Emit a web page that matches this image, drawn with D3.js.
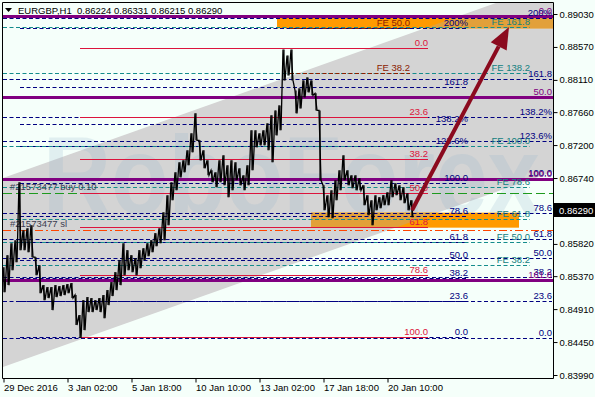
<!DOCTYPE html>
<html><head><meta charset="utf-8">
<script src="https://cdn.jsdelivr.net/npm/d3@7/dist/d3.min.js"></script>
<style>
html,body{margin:0;padding:0;background:#F5FFFA;}
svg{display:block;}
text{font-family:"Liberation Sans",Arial,sans-serif;}
</style></head><body>
<svg id="chart" width="595" height="397"></svg>
<script>
// ---------------- data ----------------
const symbol = "EURGBP,H1";
const lastQuote = ["0.86224", "0.86331", "0.86215", "0.86290"];
const currentPrice = 0.86290;
const barStep = 4; // hourly bars between samples
const highs = [0.85495,0.85663,0.85830,0.85872,0.86681,0.86011,0.86039,0.86081,0.85635,0.85523,
0.85245,0.85217,0.85217,0.85245,0.85231,0.85245,0.85259,0.85273,0.85106,0.84826,
0.85035,0.85078,0.85064,0.85035,0.85064,0.85106,0.85175,0.85287,0.85426,0.85593,
0.85830,0.85733,0.85663,0.85621,0.85733,0.85760,0.85830,0.85872,0.85970,0.86039,
0.86262,0.86500,0.86681,0.86820,0.86960,0.86987,0.87127,0.87364,0.87643,0.87266,
0.87127,0.86987,0.86848,0.86820,0.86987,0.87057,0.86918,0.86987,0.86960,0.86876,
0.86778,0.86918,0.87406,0.87406,0.87364,0.87406,0.87503,0.87615,0.87684,0.87754,
0.88535,0.88451,0.88535,0.87963,0.87991,0.88103,0.88145,0.88103,0.87922,0.87684,
0.86639,0.86500,0.86569,0.86709,0.86848,0.87057,0.86848,0.86778,0.86778,0.86736,
0.86639,0.86500,0.86430,0.86500,0.86472,0.86500,0.86541,0.86709,0.86667,0.86639,
0.86611,0.86527,0.86430];
const lows = [0.85147,0.85245,0.85454,0.85565,0.85733,0.85733,0.85705,0.85635,0.85384,0.85133,
0.85035,0.85064,0.84896,0.85078,0.85092,0.85106,0.85133,0.85064,0.84687,0.84506,
0.84617,0.84868,0.84868,0.84896,0.84868,0.84784,0.84966,0.85092,0.85175,0.85245,
0.85384,0.85454,0.85426,0.85384,0.85482,0.85593,0.85649,0.85705,0.85788,0.85830,
0.85872,0.86081,0.86430,0.86569,0.86750,0.86820,0.86918,0.87099,0.87266,0.86987,
0.86876,0.86778,0.86681,0.86611,0.86681,0.86639,0.86472,0.86569,0.86709,0.86639,
0.86569,0.86639,0.86848,0.87169,0.87197,0.87197,0.87127,0.86960,0.87336,0.87406,
0.88103,0.88172,0.88103,0.87643,0.87712,0.87866,0.87936,0.87894,0.87684,0.86709,
0.86290,0.86193,0.86179,0.86430,0.86569,0.86709,0.86639,0.86597,0.86569,0.86569,
0.86360,0.86221,0.86081,0.86290,0.86318,0.86360,0.86360,0.86472,0.86500,0.86430,
0.86388,0.86290,0.86193];

const timeTickIdx = [0, 64, 128, 192, 256, 320, 384];
const timeTickLabels = ["29 Dec 2016", "3 Jan 02:00", "5 Jan 18:00", "10 Jan 10:00", "13 Jan 02:00", "17 Jan 18:00", "20 Jan 10:00"];
const priceTicks = [0.89030, 0.88570, 0.88110, 0.87660, 0.87200, 0.86740, 0.85820, 0.85370, 0.84910, 0.84450, 0.83990];

const retraceLevels = [0, 23.6, 38.2, 50, 61.8, 78.6, 100];
const retraceLabels = ["0.0", "23.6", "38.2", "50.0", "61.8", "78.6", "100.0"];
const redFib = {p0: 0.88549, p100: 0.84520, i0: 77, i1: 425};

const extLevels = [0, 23.6, 38.2, 50, 61.8, 78.6, 100, 123.6, 138.2, 161.8, 200];
const extLabels = ["0.0", "23.6", "38.2", "50.0", "61.8", "78.6", "100.0", "123.6%", "138.2%", "161.8", "200%"];
const navyFibA = {p0: 0.84502, p100: 0.86736, i0: 0, i1: 549};
const navyFibB = {p0: 0.84516, p100: 0.86673, i0: 17, i1: 465};

const feLevels = [38.2, 50, 61.8, 78.6, 100, 138.2, 161.8];
const feLabels = ["FE 38.2", "FE 50.0", "FE 61.8", "FE 78.6", "FE 100.0", "FE 138.2", "FE 161.8"];
const feTeal = {p0: 0.84507, p100: 0.87187, i0: 0, i1: 527};
const feBrownLevels = [38.2, 50];
const feBrownLabels = ["FE 38.2", "FE 50.0"];
const feBrown = {p0: 0.86154, p100: 0.91529, i0: 287, i1: 407};

const purpleLevels = [0, 50, 100, 161.8];
const purpleLabels = ["0.0", "50.0", "100.0", "161.8"];
const purpleFib = {p0: 0.89009, p100: 0.86726, i0: 0, i1: 549};

const orderPrice = 0.86530, stopPrice = 0.86015;
const orderLabel = "#21573477 buy 0.10", stopLabel = "#21573477 sl";

const zones = [
  {i0: 274, i1: 550, pTop: 0.88984, pBot: 0.88830},
  {i0: 308, i1: 516, pTop: 0.86256, pBot: 0.86047}
];
const channelUpper = [[0, 0.86740], [550, 0.89467]];
const channelWidth = 0.02638;
const arrowFrom = [409, 0.86290], arrowTo = [506, 0.88850];
const watermark = "RoboForex";

// ---------------- drawing ----------------
const svg = d3.select("#chart");
const PL = 3, PR = 553, PT = 3, PB = 378;
const X = d3.scaleLinear().domain([0, 550]).range([PL, PR]);
const Y = d3.scaleLinear().domain([0.83990, 0.89030]).range([375, 14]);
const ry = p => Math.round(Y(p)) + 0.5;

svg.append("rect").attr("width", 595).attr("height", 397).attr("fill", "#F5FFFA");

const defs = svg.append("defs");
defs.append("clipPath").attr("id", "plotClip").append("rect")
  .attr("x", PL).attr("y", PT).attr("width", PR - PL).attr("height", PB - PT);
const chanPoly = [
  [X(channelUpper[0][0]), Y(channelUpper[0][1])],
  [X(channelUpper[1][0]), Y(channelUpper[1][1])],
  [X(channelUpper[1][0]), Y(channelUpper[1][1] - channelWidth)],
  [X(channelUpper[0][0]), Y(channelUpper[0][1] - channelWidth)]
];
defs.append("clipPath").attr("id", "chanClip").append("polygon").attr("points", chanPoly.join(" "));

const g = svg.append("g").attr("clip-path", "url(#plotClip)");

// channel
g.append("polygon").attr("points", chanPoly.join(" ")).attr("fill", "#D4D4D4");

// watermark
g.append("text").attr("x", 43).attr("y", 214).text(watermark)
  .attr("font-size", 112).attr("font-weight", "bold")
  .attr("textLength", 497).attr("lengthAdjust", "spacingAndGlyphs")
  .attr("fill", "rgba(150,180,205,0.22)");

// zones
zones.forEach(z => {
  g.append("rect").attr("x", X(z.i0)).attr("y", Y(z.pTop)).attr("width", X(z.i1) - X(z.i0))
    .attr("height", Y(z.pBot) - Y(z.pTop)).attr("fill", "#FF9A00");
  g.append("rect").attr("clip-path", "url(#chanClip)").attr("x", X(z.i0)).attr("y", Y(z.pTop))
    .attr("width", X(z.i1) - X(z.i0)).attr("height", Y(z.pBot) - Y(z.pTop)).attr("fill", "#E2A03A");
});

function hline(i0, i1, p, color, w, dash) {
  const l = g.append("line").attr("x1", X(i0)).attr("x2", X(i1))
    .attr("y1", ry(p)).attr("y2", ry(p)).attr("stroke", color).attr("stroke-width", w);
  if (dash) l.attr("stroke-dasharray", dash);
}
function label(i, p, txt, color) {
  g.append("text").attr("x", X(i)).attr("y", Math.round(Y(p)) - 2).attr("text-anchor", "end")
    .attr("font-size", 9.5).attr("fill", color).text(txt);
}
const lvl = (f, L) => f.p0 + (f.p100 - f.p0) * L / 100;

// order lines
hline(0, 550, orderPrice, "#1E9A1E", 1, "9,4");
hline(0, 550, stopPrice, "#FF4500", 1, "8,3,2,3");

// navy fibs
[navyFibA, navyFibB].forEach(f => extLevels.forEach(L => hline(f.i0, f.i1, lvl(f, L), "#000080", 1, "4,2.5")));
// teal FE
feLevels.forEach(L => hline(feTeal.i0, feTeal.i1, lvl(feTeal, L), "#148C8C", 1, "4,2.5"));
// brown FE
feBrownLevels.forEach(L => hline(feBrown.i0, feBrown.i1, lvl(feBrown, L), "#8B2000", 1, "4,2.5"));
// red fib
retraceLevels.forEach(L => hline(redFib.i0, redFib.i1, lvl(redFib, L), "#DC143C", 1));
// purple fib
purpleLevels.forEach(L => hline(purpleFib.i0, 550, lvl(purpleFib, L), "#800080", 3));

// labels
[navyFibA, navyFibB].forEach(f => extLevels.forEach((L, k) => label(f.i1, lvl(f, L), extLabels[k], "#000080")));
feLevels.forEach((L, k) => label(feTeal.i1, lvl(feTeal, L), feLabels[k], "#128080"));
feBrownLevels.forEach((L, k) => label(feBrown.i1, lvl(feBrown, L), feBrownLabels[k], "#8B2000"));
retraceLevels.forEach((L, k) => label(redFib.i1, lvl(redFib, L), retraceLabels[k], "#DC143C"));
purpleLevels.forEach((L, k) => label(purpleFib.i1, lvl(purpleFib, L), purpleLabels[k], "#800080"));

g.append("text").attr("x", 10).attr("y", Math.round(Y(orderPrice)) - 3).attr("font-size", 9.5)
  .attr("fill", "#3C3C50").text(orderLabel);
g.append("text").attr("x", 10).attr("y", Math.round(Y(stopPrice)) - 3).attr("font-size", 9.5)
  .attr("fill", "#3C3C50").text(stopLabel);

// price bars: each sample drawn as a high-low bar, joined by a jagged high/low trace
const zig = [];
highs.forEach((h, k) => { zig.push([X(k * barStep), Y(h)]); zig.push([X(k * barStep + 2), Y(lows[k])]); });
g.append("path").attr("d", d3.line()(zig)).attr("fill", "none").attr("stroke", "#000").attr("stroke-width", 1.3);
g.selectAll(".bar").data(highs).enter().append("line")
  .attr("x1", (d, k) => X(k * barStep) + 1).attr("x2", (d, k) => X(k * barStep) + 1)
  .attr("y1", d => Y(d)).attr("y2", (d, k) => Y(lows[k]))
  .attr("stroke", "#000").attr("stroke-width", 1.2);

// arrow
const ax0 = X(arrowFrom[0]), ay0 = Y(arrowFrom[1]), ax1 = X(arrowTo[0]), ay1 = Y(arrowTo[1]);
const ang = Math.atan2(ay1 - ay0, ax1 - ax0);
const headLen = 22, headW = 9;
const bx = ax1 - headLen * Math.cos(ang), by = ay1 - headLen * Math.sin(ang);
g.append("line").attr("x1", ax0).attr("y1", ay0).attr("x2", bx).attr("y2", by)
  .attr("stroke", "#8B0A1E").attr("stroke-width", 4);
g.append("polygon").attr("fill", "#8B0A1E").attr("points", [
  [ax1, ay1],
  [bx + headW * Math.sin(ang), by - headW * Math.cos(ang)],
  [bx - headW * Math.sin(ang), by + headW * Math.cos(ang)]
].join(" "));

// axes
const yAxis = d3.axisRight(Y).tickValues(priceTicks).tickFormat(d3.format(".5f")).tickSize(4).tickSizeOuter(0);
const ya = svg.append("g").attr("transform", `translate(${PR + 0.5},0)`).call(yAxis);
ya.select(".domain").remove();
ya.selectAll("text").attr("font-size", 9.5).attr("fill", "#000").attr("x", 6)
  .style("font-family", '"Liberation Sans",Arial,sans-serif');
ya.selectAll("line").attr("stroke", "#000");

const xAxis = d3.axisBottom(X).tickValues(timeTickIdx).tickFormat((d, k) => timeTickLabels[k]).tickSize(4).tickSizeOuter(0);
const xa = svg.append("g").attr("transform", `translate(0.5,${PB + 0.5})`).call(xAxis);
xa.select(".domain").remove();
xa.selectAll("text").attr("font-size", 9.5).attr("fill", "#000").attr("text-anchor", "start")
  .attr("x", 0).attr("y", 6).style("font-family", '"Liberation Sans",Arial,sans-serif');
xa.selectAll("line").attr("stroke", "#000");

// frame
svg.append("path").attr("d", `M2.5,2.5H${PR + 0.5}V${PB + 0.5}H2.5Z`).attr("fill", "none").attr("stroke", "#000");

// current price box
const cy = Y(currentPrice);
svg.append("rect").attr("x", PR + 1).attr("y", Math.round(cy) - 7).attr("width", 42).attr("height", 14).attr("fill", "#000");
svg.append("text").attr("x", PR + 6).attr("y", cy + 3.5).attr("font-size", 9.5).attr("fill", "#fff")
  .text(d3.format(".5f")(currentPrice));

// title
svg.append("polygon").attr("points", "5,8 12,8 8.5,12").attr("fill", "#000");
svg.append("text").attr("x", 18).attr("y", 14).attr("font-size", 9.5).attr("fill", "#000").text(symbol);
svg.append("text").attr("x", 77).attr("y", 14).attr("font-size", 9.5).attr("fill", "#000").text(lastQuote.join(" "));
</script>
</body></html>
